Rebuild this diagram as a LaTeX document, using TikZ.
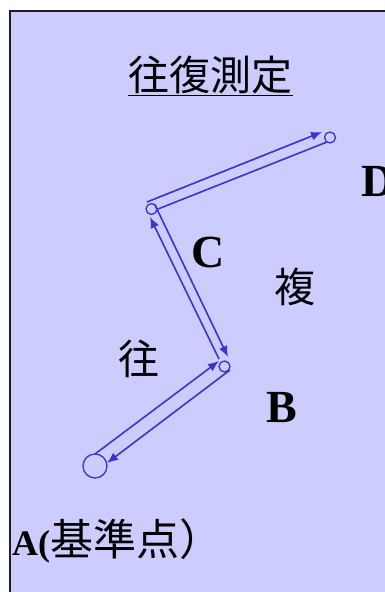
\documentclass[tikz,border=0pt]{standalone}
\usepackage{fontspec}
\setmainfont{Liberation Serif}
\newfontfamily\cjk{Noto Sans CJK JP}
\usetikzlibrary{calc,arrows.meta}
\definecolor{bgblue}{RGB}{204,204,255}
\definecolor{lineblue}{RGB}{55,55,205}
\definecolor{framec}{RGB}{30,30,40}
\tikzset{
  ptmark/.style={circle,draw=lineblue,line width=1.3pt,inner sep=0pt,minimum size=11pt},
  conn/.style={draw=lineblue,line width=1.6pt},
  arr/.style={conn,-{Latex[length=11pt,width=9pt]}},
  letter/.style={font=\fontsize{46}{50}\selectfont\bfseries,inner sep=0pt,anchor=base west},
  cjklabel/.style={font=\cjk\fontsize{41}{45}\selectfont,inner sep=0pt}
}
\begin{document}
\begin{tikzpicture}[x=1pt,y=-1pt]
\useasboundingbox (0,0) rectangle (385,592);
\clip (0,0) rectangle (385,592);
\fill[white] (0,0) rectangle (385,592);
\draw[line width=1.6pt,draw=framec,fill=bgblue] (10,11) rectangle (420,640);
% title
\node[cjklabel] (title) at (210.5,75) {往復測定};
\draw[line width=1.8pt,black] ([yshift=-5pt]title.base west) -- ([yshift=-5pt]title.base east);
% points
\node[ptmark,minimum size=24pt] (A) at (95,466) {};
\node[ptmark] (B) at (224.5,366.5) {};
\node[ptmark] (C) at (151.5,209) {};
\node[ptmark] (D) at (330,137.5) {};
% connectors
\draw[arr] ($(A)+(0,-12)$) -- ($(B)+(-5.5,-5.5)$);
\draw[arr] ($(B)+(5.5,3.5)$) -- ($(A)+(12,-3)$);
\draw[arr] ($(B)+(-5.5,-7.5)$) -- ($(C)+(-1.5,8)$);
\draw[arr] ($(C)+(3.5,-4)$) -- ($(B)+(3.5,-9.5)$);
\draw[arr] ($(C)+(-4.5,-7)$) -- ($(D)+(-8,-5.5)$);
\draw[conn] ($(D)+(-3,4.5)$) -- ($(C)+(6.5,0)$);
% labels
\node[letter] (lD) at (361,196) {D};
\node[letter] (lC) at (191,267) {C};
\node[letter] (lB) at (266,422) {B};
\node[cjklabel] (lfuku) at (295,287) {複};
\node[cjklabel] (lou) at (139,359) {往};
\node[inner sep=0pt,anchor=base west] (lA) at (12,555) {\fontsize{36}{40}\selectfont\bfseries A(\cjk\mdseries\fontsize{43}{47}\selectfont 基準点）};
\end{tikzpicture}
\end{document}
